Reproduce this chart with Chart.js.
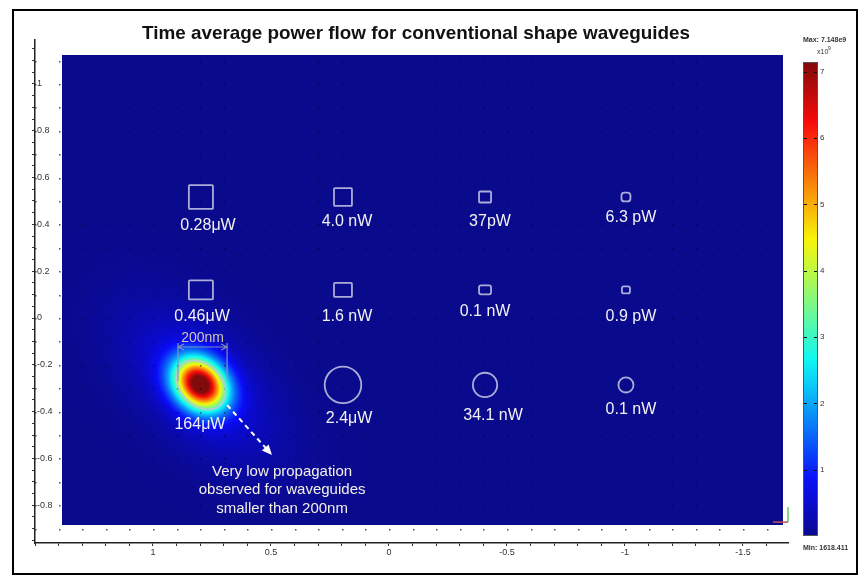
<!DOCTYPE html>
<html>
<head>
<meta charset="utf-8">
<script src="https://cdn.jsdelivr.net/npm/chart.js@4/dist/chart.umd.min.js"></script>
<style>
  html, body { margin: 0; padding: 0; background: #fff; }
  #field { display: block; }
</style>
</head>
<body>
<canvas id="field" width="859" height="578"></canvas>
<script>
// waveguide grid (um), columns left to right, rows top to bottom
var colX = [0.797, 0.195, -0.407, -1.004];
var rowY = [0.517, 0.12, -0.286];
var squareW = [0.102, 0.076, 0.051, 0.038];
var squareH = [0.102, 0.076, 0.047, 0.038];
var rectW = [0.102, 0.076, 0.051, 0.034];
var rectH = [0.081, 0.06, 0.038, 0.03];
var circleD = [0.21, 0.155, 0.103, 0.064];

// transmitted power per waveguide
var powerText = [
  ['0.28μW', '4.0 nW', '37pW', '6.3 pW'],
  ['0.46μW', '1.6 nW', '0.1 nW', '0.9 pW'],
  ['164μW', '2.4μW', '34.1 nW', '0.1 nW']
];
var powerX = [
  [0.767, 0.178, -0.428, -1.025],
  [0.792, 0.178, -0.407, -1.025],
  [0.801, 0.169, -0.441, -1.025]
];
var powerY = [
  [0.393, 0.41, 0.41, 0.427],
  [0.008, 0.008, 0.026, 0.008],
  [-0.457, -0.432, -0.415, -0.393]
];

// field map
var fieldX = [-1.67, 1.386];
var fieldY = [-0.885, 1.124];
var spotCenter = [0.80, -0.283];
var spotAxes = [0.118, 0.094];
var spotAngle = 45;
var glowAxes = [0.38, 0.21];
var glowLevel = 0.1;
var outlineAxes = [0.119, 0.088];
var powerMax = 7.148e9;
var powerMin = 1618.411;

// axes
var xLabels = [1, 0.5, 0, -0.5, -1, -1.5];
var yLabels = [1, 0.8, 0.6, 0.4, 0.2, 0, -0.2, -0.4, -0.6, -0.8];
var cbTicks = [1, 2, 3, 4, 5, 6, 7];

// annotation
var noteLines = ['Very low propagation', 'observed for waveguides', 'smaller than 200nm'];
var noteX = 0.453;
var noteY = [-0.658, -0.735, -0.816];
var arrowFrom = [0.686, -0.372];
var arrowTo = [0.496, -0.585];
var dimX = [0.894, 0.686];
var dimY = -0.124;
var dimBottom = -0.27;

var FONT = '"Liberation Sans", Arial, sans-serif';

function clamp01(v) { return Math.min(1, Math.max(0, v)); }
function jet(t) {
  t = 0.0125 + 0.9875 * t;
  return [clamp01(1.5 - Math.abs(4 * t - 3)), clamp01(1.5 - Math.abs(4 * t - 2)), clamp01(1.5 - Math.abs(4 * t - 1))];
}
function jetCss(t) {
  var c = jet(t);
  return 'rgb(' + Math.round(10 + c[0] * 238) + ',' + Math.round(10 + c[1] * 238) + ',' + Math.round(10 + c[2] * 238) + ')';
}

function fieldLevel(x, y) {
  var a = spotAngle * Math.PI / 180;
  var dx = x - spotCenter[0], dy = y - spotCenter[1];
  var u = dx * Math.cos(a) + dy * Math.sin(a);
  var v = -dx * Math.sin(a) + dy * Math.cos(a);
  var q = Math.pow(u / spotAxes[0], 2) + Math.pow(v / spotAxes[1], 2);
  var core = Math.exp(-q);
  var g = Math.pow(u / glowAxes[0], 2) + Math.pow(v / glowAxes[1], 2);
  return clamp01(core + glowLevel * Math.exp(-g));
}

function stepList(from, to, step) {
  var out = [];
  for (var i = Math.round(from / step); i <= Math.round(to / step); i++) out.push(+(i * step).toFixed(3));
  return out;
}

function isLabel(list, v) {
  for (var i = 0; i < list.length; i++) if (Math.abs(list[i] - v) < 1e-6) return String(list[i]);
  return '';
}

var fieldPlugin = {
  id: 'fieldPlugin',
  beforeDatasetsDraw: function (chart) {
    var ctx = chart.ctx, xs = chart.scales.x, ys = chart.scales.y;
    var left = Math.round(xs.getPixelForValue(fieldX[1]));
    var right = Math.round(xs.getPixelForValue(fieldX[0]));
    var top = Math.round(ys.getPixelForValue(fieldY[1]));
    var bottom = Math.round(ys.getPixelForValue(fieldY[0]));
    var w = right - left, h = bottom - top;
    var off = document.createElement('canvas');
    off.width = w; off.height = h;
    var octx = off.getContext('2d');
    var img = octx.createImageData(w, h);
    for (var j = 0; j < h; j++) {
      var y = ys.getValueForPixel(top + j + 0.5);
      for (var i = 0; i < w; i++) {
        var x = xs.getValueForPixel(left + i + 0.5);
        var c = jet(fieldLevel(x, y));
        var k = (j * w + i) * 4;
        img.data[k] = 10 + c[0] * 238;
        img.data[k + 1] = 10 + c[1] * 238;
        img.data[k + 2] = 10 + c[2] * 238;
        img.data[k + 3] = 255;
      }
    }
    octx.putImageData(img, 0, 0);
    ctx.drawImage(off, left, top);

    // dotted grid
    var gx = stepList(-1.6, 1.5, 0.1), gy = stepList(-0.9, 1.1, 0.1);
    gx.forEach(function (vx) {
      var px = Math.round(xs.getPixelForValue(vx));
      gy.forEach(function (vy) {
        var py = Math.round(ys.getPixelForValue(vy));
        var inside = px >= left && px < right && py >= top && py < bottom;
        ctx.fillStyle = inside ? 'rgba(0,0,40,0.55)' : 'rgba(50,50,50,0.85)';
        ctx.fillRect(px, py, 1.5, 1.5);
      });
    });
  },
  afterDraw: function (chart) {
    var ctx = chart.ctx, xs = chart.scales.x, ys = chart.scales.y, cb = chart.scales.cb;
    function px(x) { return xs.getPixelForValue(x); }
    function py(y) { return ys.getPixelForValue(y); }
    ctx.save();

    // waveguide outlines
    ctx.strokeStyle = 'rgba(190,190,225,0.9)';
    ctx.lineWidth = 1.8;
    function box(cx, cy, w, h, r) {
      var x0 = px(cx + w / 2), x1 = px(cx - w / 2), y0 = py(cy + h / 2), y1 = py(cy - h / 2);
      ctx.beginPath();
      if (ctx.roundRect) ctx.roundRect(x0, y0, x1 - x0, y1 - y0, r); else ctx.rect(x0, y0, x1 - x0, y1 - y0);
      ctx.stroke();
    }
    colX.forEach(function (cx, i) {
      box(cx, rowY[0], squareW[i], squareH[i], i === 3 ? 3 : 1);
      box(cx, rowY[1], rectW[i], rectH[i], i >= 2 ? 2 : 1);
      if (i > 0) {
        var r = Math.abs(px(cx + circleD[i] / 2) - px(cx));
        ctx.beginPath();
        ctx.arc(px(cx), py(rowY[2]), r, 0, Math.PI * 2);
        ctx.stroke();
      }
    });
    // outline of the guiding waveguide
    var a = spotAngle * Math.PI / 180;
    var c0x = px(colX[0]), c0y = py(rowY[2]);
    var ax = px(colX[0] + outlineAxes[0] * Math.cos(a)) - c0x;
    var ay = py(rowY[2] + outlineAxes[0] * Math.sin(a)) - c0y;
    var bx = px(colX[0] - outlineAxes[1] * Math.sin(a)) - c0x;
    var by = py(rowY[2] + outlineAxes[1] * Math.cos(a)) - c0y;
    ctx.beginPath();
    ctx.ellipse(c0x, c0y, Math.hypot(ax, ay), Math.hypot(bx, by), Math.atan2(ay, ax), 0, Math.PI * 2);
    ctx.strokeStyle = 'rgba(190,200,225,0.85)';
    ctx.lineWidth = 1.8;
    ctx.stroke();

    // 200nm dimension
    ctx.strokeStyle = 'rgba(130,150,190,0.95)';
    ctx.lineWidth = 1.2;
    var dl = px(dimX[0]), dr = px(dimX[1]), dy = py(dimY), db = py(dimBottom);
    ctx.beginPath();
    ctx.moveTo(dl, dy - 4); ctx.lineTo(dl, db);
    ctx.moveTo(dr, dy - 4); ctx.lineTo(dr, db);
    ctx.moveTo(dl, dy); ctx.lineTo(dr, dy);
    ctx.moveTo(dl + 6, dy - 3); ctx.lineTo(dl, dy); ctx.lineTo(dl + 6, dy + 3);
    ctx.moveTo(dr - 6, dy - 3); ctx.lineTo(dr, dy); ctx.lineTo(dr - 6, dy + 3);
    ctx.stroke();
    ctx.fillStyle = '#cfc6b4';
    ctx.font = '14px ' + FONT;
    ctx.textAlign = 'center';
    ctx.textBaseline = 'middle';
    ctx.fillText('200nm', (dl + dr) / 2, dy - 9);

    // power labels
    ctx.fillStyle = '#f2f2f2';
    ctx.font = '16px ' + FONT;
    powerText.forEach(function (row, r) {
      row.forEach(function (t, i) {
        ctx.fillText(t, px(powerX[r][i]), py(powerY[r][i]));
      });
    });

    // dashed arrow and note
    var fx = px(arrowFrom[0]), fy = py(arrowFrom[1]), tx = px(arrowTo[0]), ty = py(arrowTo[1]);
    var ang = Math.atan2(ty - fy, tx - fx);
    ctx.strokeStyle = '#ffffff';
    ctx.lineWidth = 2;
    ctx.setLineDash([5, 4]);
    ctx.beginPath();
    ctx.moveTo(fx, fy);
    ctx.lineTo(tx - 8 * Math.cos(ang), ty - 8 * Math.sin(ang));
    ctx.stroke();
    ctx.setLineDash([]);
    ctx.fillStyle = '#ffffff';
    ctx.beginPath();
    ctx.moveTo(tx, ty);
    ctx.lineTo(tx - 10 * Math.cos(ang) + 4.5 * Math.sin(ang), ty - 10 * Math.sin(ang) - 4.5 * Math.cos(ang));
    ctx.lineTo(tx - 10 * Math.cos(ang) - 4.5 * Math.sin(ang), ty - 10 * Math.sin(ang) + 4.5 * Math.cos(ang));
    ctx.closePath();
    ctx.fill();
    ctx.fillStyle = '#f4f0e6';
    ctx.font = '15px ' + FONT;
    noteLines.forEach(function (t, i) { ctx.fillText(t, px(noteX), py(noteY[i])); });

    // little axis triad
    var rb = chart.chartArea.right, bb = py(fieldY[0]);
    ctx.lineWidth = 1.5;
    ctx.strokeStyle = '#5cc85c';
    ctx.beginPath(); ctx.moveTo(rb, bb - 18); ctx.lineTo(rb, bb - 3); ctx.stroke();
    ctx.strokeStyle = '#c85050';
    ctx.beginPath(); ctx.moveTo(rb - 15, bb - 3); ctx.lineTo(rb, bb - 3); ctx.stroke();

    // colour bar
    var cTop = cb.getPixelForValue(powerMax / 1e9), cBot = cb.getPixelForValue(powerMin / 1e9);
    var cL = 803, cW = 15;
    var grad = ctx.createLinearGradient(0, cBot, 0, cTop);
    for (var s = 0; s <= 16; s++) grad.addColorStop(s / 16, jetCss(s / 16));
    ctx.fillStyle = grad;
    ctx.fillRect(cL, cTop, cW, cBot - cTop);
    ctx.strokeStyle = '#555';
    ctx.lineWidth = 1;
    ctx.strokeRect(cL + 0.5, cTop + 0.5, cW - 1, cBot - cTop - 1);
    ctx.strokeStyle = '#111';
    cbTicks.forEach(function (v) {
      var y = Math.round(cb.getPixelForValue(v)) + 0.5;
      ctx.beginPath();
      ctx.moveTo(cL + 1, y); ctx.lineTo(cL + 4, y);
      ctx.moveTo(cL + cW - 4, y); ctx.lineTo(cL + cW - 1, y);
      ctx.stroke();
    });
    ctx.fillStyle = '#333';
    ctx.font = 'bold 7px ' + FONT;
    ctx.textAlign = 'left';
    ctx.fillText('Max: ' + (powerMax / 1e9).toFixed(3) + 'e9', 803, 40);
    ctx.fillText('Min: ' + powerMin.toFixed(3), 803, 548);
    ctx.font = '7px ' + FONT;
    ctx.fillText('x10', 817, 52);
    ctx.font = '5px ' + FONT;
    ctx.fillText('9', 828, 49);

    // title
    ctx.fillStyle = '#111';
    ctx.font = 'bold 19px "Liberation Sans Narrow", "Liberation Sans", Arial, sans-serif';
    ctx.textAlign = 'center';
    var title = 'Time average power flow for conventional shape waveguides';
    var tw = ctx.measureText(title).width;
    ctx.translate(416, 34);
    ctx.scale(548 / tw, 1);
    ctx.fillText(title, 0, 0);
    ctx.setTransform(1, 0, 0, 1, 0, 0);

    // frame
    ctx.strokeStyle = '#000';
    ctx.lineWidth = 2;
    ctx.strokeRect(13, 10, 844, 564);
    ctx.restore();
  }
};

var centers = [];
rowY.forEach(function (y) { colX.forEach(function (x) { centers.push({ x: x, y: y }); }); });

new Chart(document.getElementById('field').getContext('2d'), {
  type: 'scatter',
  data: {
    datasets: [{ label: 'waveguides', data: centers, pointRadius: 0, pointHoverRadius: 0 }]
  },
  options: {
    responsive: false,
    animation: false,
    devicePixelRatio: 1,
    layout: { padding: { top: 40, right: 0, bottom: 0, left: 0 } },
    plugins: { legend: { display: false }, tooltip: { enabled: false }, title: { display: false } },
    scales: {
      x: {
        type: 'linear', reverse: true, min: -1.6907, max: 1.5,
        afterBuildTicks: function (s) { s.ticks = stepList(-1.6, 1.5, 0.1).map(function (v) { return { value: v }; }); },
        afterFit: function (s) { s.height = 35; },
        ticks: { autoSkip: false, maxRotation: 0, padding: 1, color: '#333', font: { size: 9, family: FONT },
          callback: function (v) { return isLabel(xLabels, v); } },
        grid: { drawOnChartArea: false, tickLength: 3, color: '#333' },
        border: { color: '#222', width: 1.5 }
      },
      y: {
        type: 'linear', min: -0.9615, max: 1.188,
        afterBuildTicks: function (s) { s.ticks = stepList(-0.95, 1.15, 0.05).map(function (v) { return { value: v }; }); },
        afterFit: function (s) { s.width = 35; },
        ticks: { autoSkip: false, mirror: true, padding: 2, color: '#333', font: { size: 9, family: FONT },
          callback: function (v) { return isLabel(yLabels, v); } },
        grid: { drawOnChartArea: false, tickLength: 3, color: '#333' },
        border: { color: '#222', width: 1.5 }
      },
      cb: {
        type: 'linear', position: 'right', min: -0.1056, max: 7.481,
        afterBuildTicks: function (s) { s.ticks = cbTicks.map(function (v) { return { value: v }; }); },
        afterFit: function (s) { s.width = 71; },
        ticks: { padding: 24, color: '#333', font: { size: 8, family: FONT } },
        grid: { display: false },
        border: { display: false }
      }
    }
  },
  plugins: [fieldPlugin]
});
</script>
</body>
</html>
